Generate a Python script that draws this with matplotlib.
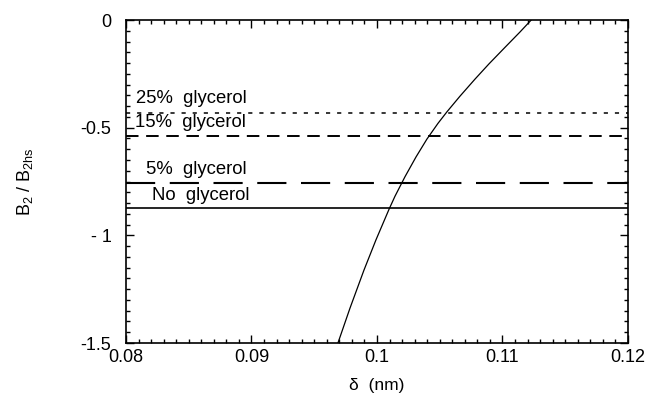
import matplotlib
matplotlib.use("Agg")
import matplotlib.pyplot as plt
from matplotlib.ticker import MultipleLocator, FixedLocator, FixedFormatter

plt.rcParams['font.family'] = ['Liberation Sans', 'DejaVu Sans']
plt.rcParams['mathtext.fontset'] = 'custom'
plt.rcParams['mathtext.rm'] = 'Liberation Sans'
plt.rcParams['mathtext.it'] = 'Liberation Sans'
plt.rcParams['mathtext.default'] = 'regular'
plt.rcParams['lines.scale_dashes'] = False

# Curve
delta = [0.09689, 0.09785, 0.09896, 0.09992, 0.10096, 0.10143, 0.10223,
         0.10311, 0.10398, 0.10486, 0.10558, 0.10661, 0.10781, 0.10892,
         0.11020, 0.11139, 0.11229]
b2_ratio = [-1.500, -1.338, -1.162, -1.021, -0.879, -0.819, -0.728,
            -0.636, -0.553, -0.480, -0.426, -0.354, -0.2745, -0.204,
            -0.127, -0.056, 0.0]

# Horizontal reference levels
levels = {
    '25%  glycerol': -0.433,
    '15%  glycerol': -0.539,
    '5%  glycerol': -0.755,
    'No  glycerol': -0.875,
}

x_ticks = [0.08, 0.09, 0.10, 0.11, 0.12]
x_labels = ['0.08', '0.09', '0.1', '0.11', '0.12']
y_ticks = [-1.5, -1.0, -0.5, 0.0]
y_labels = ['-1.5', '- 1', '-0.5', '0']

fig = plt.figure(figsize=(6.47, 3.97), dpi=100)
ax = fig.add_axes([0.1947, 0.136, 0.7759, 0.8136])

styles = {
    '25%  glycerol': dict(ls=(0, (3, 5)), lw=1.1),
    '15%  glycerol': dict(ls=(0, (9, 5.5)), lw=1.4),
    '5%  glycerol': dict(ls=(0, (21, 10.5)), lw=1.5),
    'No  glycerol': dict(ls='-', lw=1.2),
}
label_pos = {
    '25%  glycerol': (0.0808, -0.365),
    '15%  glycerol': (0.0807, -0.474),
    '5%  glycerol': (0.0816, -0.695),
    'No  glycerol': (0.0821, -0.817),
}
for name, val in levels.items():
    ax.plot([0.08, 0.12], [val, val], color='black', **styles[name])
    tx, ty = label_pos[name]
    ax.text(tx, ty, name, fontsize=13.3, va='center', ha='left')

ax.plot(delta, b2_ratio, color='black', lw=0.9)

ax.set_xlim(0.08, 0.12)
ax.set_ylim(-1.5, 0)
ax.xaxis.set_major_locator(FixedLocator(x_ticks))
ax.xaxis.set_major_formatter(FixedFormatter(x_labels))
ax.xaxis.set_minor_locator(MultipleLocator(0.001))
ax.yaxis.set_major_locator(FixedLocator(y_ticks))
ax.yaxis.set_major_formatter(FixedFormatter(y_labels))
ax.yaxis.set_minor_locator(MultipleLocator(0.05))

ax.tick_params(which='both', direction='in', top=True, right=True, width=1.0)
ax.tick_params(which='major', length=6, labelsize=13)
ax.tick_params(which='minor', length=3)
ax.tick_params(axis='y', which='major', pad=10.5)
ax.tick_params(axis='x', which='major', pad=4)
for s in ax.spines.values():
    s.set_linewidth(1.2)

ax.set_xlabel('δ  (nm)', fontsize=12.5, labelpad=9)
ax.set_ylabel(r'B$_2$ / B$_{2hs}$', fontsize=13, labelpad=33)

fig.savefig('out.png', dpi=100)
